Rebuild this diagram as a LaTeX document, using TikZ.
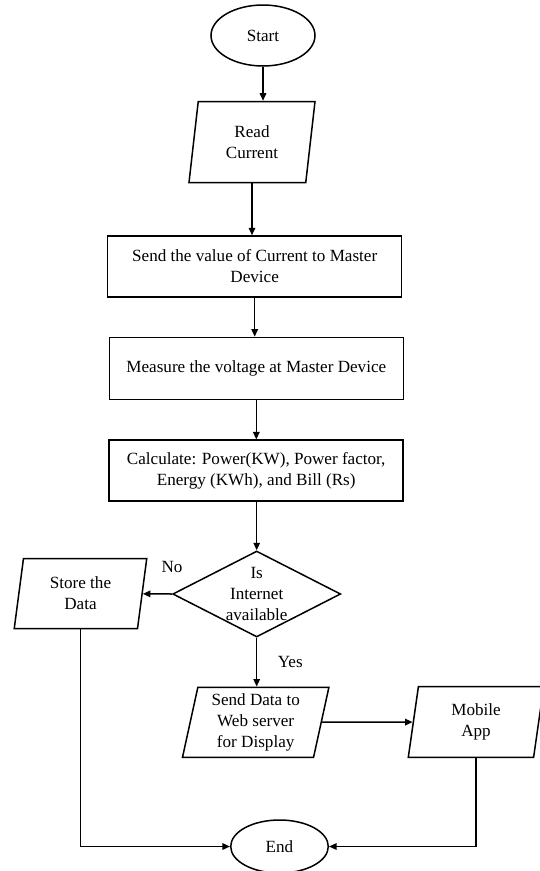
\documentclass[tikz,border=0pt]{standalone}
\usepackage{fontspec}
\setmainfont{Liberation Serif}
\usetikzlibrary{arrows.meta,positioning,shapes.geometric}

\begin{document}
\begin{tikzpicture}[
  x=1pt, y=-1pt,
  >={Triangle[length=7.5pt,width=6.5pt]}, font=\fontsize{17.1}{21}\selectfont,
  line width=1.5pt,
  term/.style={draw, ellipse, inner sep=1pt},
  proc/.style={draw, rectangle, minimum width=294pt, align=center, inner sep=2pt},
  data/.style={draw, trapezium, trapezium left angle=76, trapezium right angle=104,
               trapezium stretches body, align=center, inner sep=2pt},
  dec/.style={draw, diamond, inner sep=0pt},
  arr/.style={->},
]
  \useasboundingbox (0,0) rectangle (540,871);

  \node[term, minimum width=104pt, minimum height=61pt]  (start) at (263,35.5)    {Start};
  \node[data, minimum width=126pt, minimum height=81pt]  (read)  at (252,142)     {Read\\Current};
  \node[proc, minimum height=61pt] (send) at (254.7,266.5) {Send the value of Current to Master\\Device};
  \node[proc, minimum height=62pt] (meas) at (256.3,368.4) {Measure the voltage at Master Device};
  \node[proc, minimum height=61pt] (calc) at (256.2,470.7) {Calculate: Power(KW), Power factor,\\Energy (KWh), and Bill (Rs)};
  \node[dec, minimum width=168pt, minimum height=86pt]   (net)   at (256.7,594)   {};
  \node[align=center, inner sep=0pt] (nettxt) at (net) {Is\\Internet\\available};
  \node[data, minimum width=132.5pt, minimum height=70pt] (store) at (80.5,593.5) {Store the\\Data};
  \node[data, minimum width=146.4pt, minimum height=70pt] (web)   at (255.7,722.3) {Send Data to\\Web server\\for Display};
  \node[data, minimum width=135.4pt, minimum height=70.6pt] (app) at (476,722)     {Mobile\\App};
  \node[term, minimum width=97.6pt, minimum height=53pt] (stop)  at (279.5,846.5) {End};

  \draw[arr] (start.south) -- (start.south |- read.north);
  \draw[arr] (read.south) -- (read.south |- send.north);
  \draw[arr] (send.south) -- (send.south |- meas.north);
  \draw[arr] (meas.south) -- (meas.south |- calc.north);
  \draw[arr] (calc.south -| net.north) -- (net.north);
  \draw[arr] (net.west) -- (store) node[pos=0, above=17pt] (no) {No};
  \draw[arr] (net.south) -- (net.south |- web.north) node[midway, right=17pt] (yes) {Yes};
  \draw[arr] (web) -- (app);
  \draw[arr] (store.south) |- (stop.west);
  \draw[arr] (app.south) |- (stop.east);
\end{tikzpicture}
\end{document}
